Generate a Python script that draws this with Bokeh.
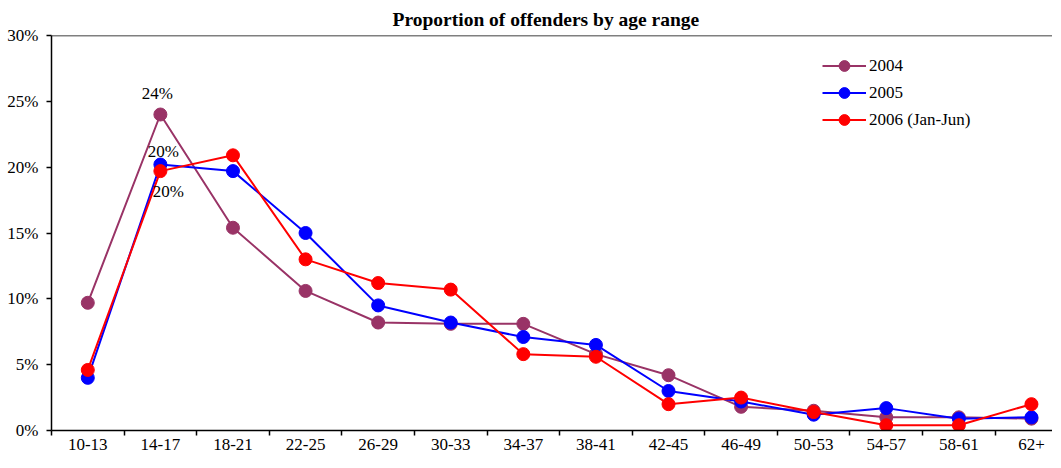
from bokeh.plotting import figure
from bokeh.models import (Range1d, FixedTicker, PrintfTickFormatter, Span,
                          Legend, LegendItem, ColumnDataSource)
from bokeh.core.properties import value
from bokeh.embed import file_html
from bokeh.resources import INLINE

# ---- data (percent of offenders) ----
categories = ["10-13", "14-17", "18-21", "22-25", "26-29", "30-33", "34-37",
              "38-41", "42-45", "46-49", "50-53", "54-57", "58-61", "62+"]
series_names = ["2004", "2005", "2006 (Jan-Jun)"]
y2004 = [9.7, 24.0, 15.4, 10.6, 8.2, 8.1, 8.1, 5.8, 4.2, 1.8, 1.5, 1.0, 1.0, 0.9]
y2005 = [4.0, 20.2, 19.7, 15.0, 9.5, 8.2, 7.1, 6.5, 3.0, 2.2, 1.2, 1.7, 0.9, 1.0]
y2006 = [4.6, 19.7, 20.9, 13.0, 11.2, 10.7, 5.8, 5.6, 2.0, 2.5, 1.4, 0.4, 0.4, 2.0]
y_ticks = [0, 5, 10, 15, 20, 25, 30]
labelled_index = 1  # "14-17" points carry value labels
title_text = "Proportion of offenders by age range"

colors = ["#993366", "#0000FF", "#FF0000"]
FONT = "Liberation Serif"
FS = "17px"

xs = list(range(len(categories)))

p = figure(width=1052, height=452, output_backend="svg", toolbar_location=None,
           x_range=Range1d(-0.5, 13.29), y_range=Range1d(0, 30),
           min_border_left=51, min_border_right=0, min_border_top=34,
           min_border_bottom=20)
p.outline_line_color = None
p.xgrid.grid_line_color = None
p.ygrid.grid_line_color = None
p.background_fill_color = "white"
p.border_fill_color = "white"

# title
p.title.text = title_text
p.title.text_font = FONT
p.title.text_font_size = "19.5px"
p.title.text_font_style = "bold"
p.title.text_color = "black"
p.title.align = "left"
p.title.offset = 341
p.title.standoff = 12

# x axis
xa = p.xaxis[0]
xa.ticker = FixedTicker(ticks=xs, minor_ticks=[i - 0.5 for i in range(len(categories) + 1)])
xa.major_label_overrides = {i: c for i, c in enumerate(categories)}
xa.major_tick_out = 0
xa.major_tick_in = 0
xa.minor_tick_out = 5
xa.minor_tick_in = 0
xa.minor_tick_line_color = "black"
xa.minor_tick_line_width = 1.5
xa.axis_line_color = "black"
xa.axis_line_width = 1.5
xa.major_label_standoff = 3
xa.major_label_text_font = FONT
xa.major_label_text_font_size = FS
xa.major_label_text_color = "black"

# y axis
ya = p.yaxis[0]
ya.ticker = FixedTicker(ticks=y_ticks)
ya.formatter = PrintfTickFormatter(format="%d%%")
ya.major_tick_out = 5
ya.major_tick_in = 0
ya.major_tick_line_color = "black"
ya.major_tick_line_width = 1.5
ya.minor_tick_line_color = None
ya.axis_line_color = "black"
ya.axis_line_width = 1.5
ya.major_label_standoff = 8
ya.major_label_text_font = FONT
ya.major_label_text_font_size = FS
ya.major_label_text_color = "black"

# top border
p.add_layout(Span(location=30, dimension="width", line_color="black", line_width=1.5))

items = []
for name, ys, col in zip(series_names, [y2004, y2005, y2006], colors):
    src = ColumnDataSource(dict(x=xs, y=ys))
    ln = p.line("x", "y", source=src, line_color=col, line_width=2)
    sc = p.scatter("x", "y", source=src, size=13, fill_color=col, line_color=col)
    items.append(LegendItem(label=name, renderers=[ln, sc]))

# value labels at 14-17
lab_specs = [(y2004, -3, -21), (y2005, 3, -13), (y2006, 8, 20)]
for ys, dx, dy in lab_specs:
    p.text(x=[labelled_index], y=[ys[labelled_index]],
           text=[f"{ys[labelled_index]:.0f}%"],
           text_font=value(FONT), text_font_size=FS, text_color="black",
           text_align="center", text_baseline="middle", x_offset=dx, y_offset=dy)

legend = Legend(items=items, location=(771, 297), padding=0, margin=0,
                glyph_width=44, glyph_height=27, label_height=27, spacing=0,
                label_standoff=3, border_line_color=None, background_fill_alpha=0,
                label_text_font=FONT, label_text_font_size=FS,
                label_text_color="black")
p.add_layout(legend, "center")

open("out.html", "w").write(file_html(p, INLINE))
